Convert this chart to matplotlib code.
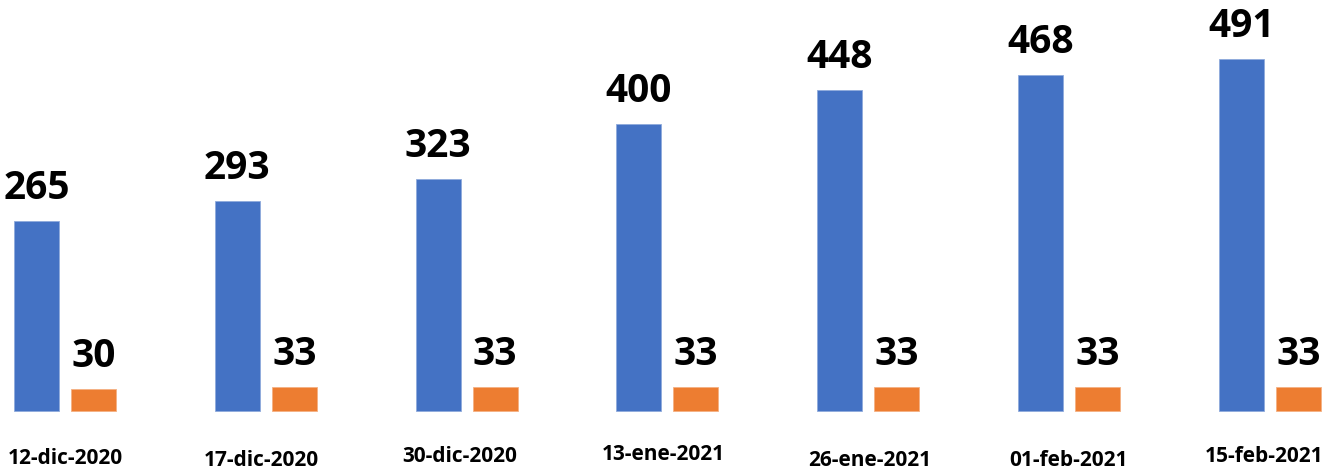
import matplotlib
matplotlib.use("Agg")
import matplotlib.pyplot as plt
import numpy as np

categories = ["12-dic-2020", "17-dic-2020", "30-dic-2020", "13-ene-2021",
              "26-ene-2021", "01-feb-2021", "15-feb-2021"]
series_a = [265, 293, 323, 400, 448, 468, 491]
series_b = [30, 33, 33, 33, 33, 33, 33]

# label placement tweaks (style only): x shift in group units, y in pixels from top
label_dx = [0.0, -0.02, -0.035, -0.02, 0.01, 0.0, -0.03]
label_y_px = [458, 460, 456, 455, 460, 460, 456]

blue = "#4472C4"
orange = "#ED7D31"
font = ["Open Sans", "DejaVu Sans"]

W, H, DPI = 1322, 472, 100
fig = plt.figure(figsize=(W / DPI, H / DPI), dpi=DPI)
ax = fig.add_axes([0, 0, 1, 1])
ax.set_axis_off()

x = np.arange(len(categories))
off = 0.142
width = 0.224
ax.bar(x - off, series_a, width, color=blue, edgecolor="#8FAADC", linewidth=0.6)
ax.bar(x + off, series_b, width, color=orange, edgecolor="#F4B183", linewidth=0.6)

ax.set_xlim(-0.3237, 6.260)
ax.set_ylim(-85.1, 573.2)

for xi, v in zip(x, series_a):
    ax.annotate(str(v), (xi - off, v), xytext=(0, 13), textcoords="offset pixels",
                ha="center", va="bottom", fontsize=28, fontweight="bold",
                family=font, color="black")
for xi, v in zip(x, series_b):
    ax.annotate(str(v), (xi + off, v), xytext=(0, 13), textcoords="offset pixels",
                ha="center", va="bottom", fontsize=28, fontweight="bold",
                family=font, color="black")

for xi, lab, dx, ypx in zip(x, categories, label_dx, label_y_px):
    ax.text(xi + dx, 1 - ypx / H, lab, transform=ax.get_xaxis_transform(),
            ha="center", va="center", fontsize=15, fontweight="bold",
            family=font, color="black")

fig.savefig("out.png", dpi=DPI, facecolor="white")
